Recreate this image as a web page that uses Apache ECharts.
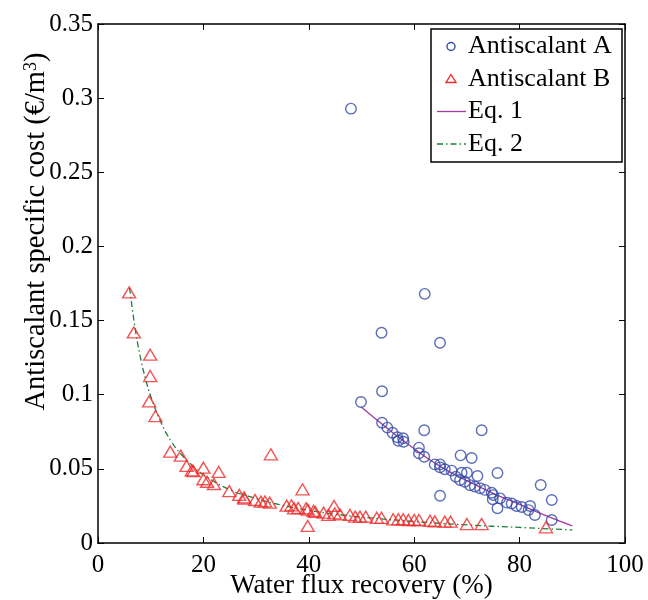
<!DOCTYPE html>
<html><head><meta charset="utf-8">
<script src="https://cdn.jsdelivr.net/npm/echarts@6/dist/echarts.min.js"></script>
<style>html,body{margin:0;padding:0;background:#fff}#c{width:648px;height:600px}</style>
</head><body><div id="c"></div>
<script>
// Antiscalant A (circles): [recovery %, cost €/m3]
const antiA = [
  [48.0,0.2929],[62.0,0.168],[53.8,0.1418],[64.9,0.135],[53.9,0.1023],[49.9,0.0951],
  [53.9,0.0811],[54.9,0.0778],[55.9,0.0744],[56.8,0.0713],[57.0,0.069],[57.9,0.0706],[58.0,0.0683],
  [61.9,0.076],[60.9,0.0643],[60.9,0.0605],[61.9,0.0582],[63.9,0.053],[64.9,0.053],[64.9,0.051],
  [65.8,0.0497],[64.9,0.0319],[67.1,0.0488],[68.8,0.0591],[70.9,0.0573],[69.0,0.0474],[70.0,0.0474],
  [67.9,0.0447],[68.7,0.0425],[69.6,0.0413],[72.0,0.0452],[70.6,0.039],[71.5,0.038],[72.8,0.076],
  [72.5,0.0369],[73.4,0.0358],[74.7,0.0339],[75.0,0.0323],[74.9,0.0295],[75.8,0.0472],[75.8,0.0234],
  [76.3,0.0301],[77.6,0.0272],[78.5,0.0266],[79.4,0.025],[80.4,0.0243],[82.0,0.025],[81.7,0.0222],
  [82.9,0.0189],[84.0,0.0391],[86.1,0.029],[86.1,0.0155]
];
// Antiscalant B (triangles)
const antiB = [
  [5.9,0.169],[6.8,0.142],[9.9,0.127],[9.9,0.1126],[9.7,0.0955],[10.9,0.0856],[13.7,0.0616],
  [15.7,0.0589],[16.8,0.052],[17.8,0.049],[18.1,0.0485],[20.0,0.0508],[20.0,0.043],[20.7,0.0413],
  [22.0,0.0398],[22.9,0.0479],[24.9,0.035],[26.8,0.0324],[27.7,0.0308],[27.8,0.030],[29.8,0.029],
  [30.9,0.0279],[31.7,0.028],[32.6,0.0272],[32.8,0.0598],[35.8,0.0252],[36.7,0.0254],[37.2,0.0234],
  [38.0,0.0236],[38.8,0.0362],[39.5,0.0234],[39.8,0.0225],[39.8,0.0115],[41.2,0.021],[40.9,0.0216],
  [42.8,0.0205],[43.7,0.019],[44.8,0.025],[44.9,0.020],[45.9,0.0193],[47.8,0.019],[48.8,0.0178],
  [49.7,0.0178],[50.8,0.0178],[52.9,0.017],[53.8,0.017],[56.0,0.016],[57.0,0.016],[57.9,0.016],
  [58.9,0.0155],[60.0,0.0155],[60.9,0.0155],[63.0,0.015],[63.9,0.0146],[65.8,0.0144],[66.9,0.0144],
  [70.0,0.0128],[72.8,0.0128],[85.0,0.0106]
];
// Eq. 1 fitted curve
const eq1 = [[50,0.0915],[55,0.077],[60,0.0635],[65,0.0515],[70,0.042],[75,0.0335],[80,0.026],[85,0.0185],[90,0.0115]];
// Eq. 2 fitted curve
const eq2 = [[6,0.172],[7,0.146],[8,0.126],[9,0.111],[10,0.099],[12,0.081],[14,0.068],[16,0.059],[18,0.052],
  [20,0.046],[25,0.036],[30,0.030],[35,0.0255],[40,0.022],[45,0.0195],[50,0.0175],[60,0.0145],[70,0.0122],[80,0.0105],[90,0.0088]];
const xTicks = ['0','20','40','60','80','100'];
const yTicks = ['0','0.05','0.1','0.15','0.2','0.25','0.3','0.35'];
const legendNames = ['Antiscalant A','Antiscalant B','Eq. 1','Eq. 2'];

const FONT = 'Liberation Serif';
const C_A = '#3349a8', C_B = '#ee2a2a', C_E1 = '#a03ca0', C_E2 = '#1a7f3a';
const chart = echarts.init(document.getElementById('c'), null, {renderer:'canvas'});
const axisCommon = {
  axisLine:{show:true,onZero:false,lineStyle:{color:'#000',width:1.5}},
  axisTick:{show:true,inside:true,length:6,lineStyle:{color:'#000',width:1}},
  splitLine:{show:false}
};
const lx = 437, ly0 = 46.5, ldy = 32.5;
const LF = '26px "Liberation Serif"';
chart.setOption({
  animation:false,
  grid:{left:98,right:23,top:24,bottom:57,containLabel:false,outerBoundsMode:'none'},
  xAxis:[
    Object.assign({type:'value',min:0,max:100,interval:20,position:'bottom',
      name:'Water flux recovery (%)',nameLocation:'middle',nameGap:29,nameMoveOverlap:false,
      nameTextStyle:{fontFamily:FONT,fontSize:27,color:'#000'},
      axisLabel:{fontFamily:FONT,fontSize:25,color:'#000',margin:10,formatter:v=>xTicks[Math.round(v/20)]}},axisCommon),
    Object.assign({type:'value',min:0,max:100,interval:20,position:'top',axisLabel:{show:false}},axisCommon)
  ],
  yAxis:[
    Object.assign({type:'value',min:0,max:0.35,interval:0.05,position:'left',
      name:'{a|Antiscalant specific cost (€/m}{s|3}{a|)}',nameLocation:'middle',nameGap:46,nameMoveOverlap:false,
      nameTextStyle:{fontFamily:FONT,fontSize:28.5,color:'#000',padding:[0,0,0,104],
        rich:{a:{fontFamily:FONT,fontSize:28.5,color:'#000'},s:{fontFamily:FONT,fontSize:18,color:'#000',verticalAlign:'top',padding:[0,0,12,0]}}},
      axisLabel:{fontFamily:FONT,fontSize:25,color:'#000',margin:5,formatter:v=>yTicks[Math.round(v/0.05)]}},axisCommon),
    Object.assign({type:'value',min:0,max:0.35,interval:0.05,position:'right',axisLabel:{show:false}},axisCommon)
  ],
  series:[
    {name:legendNames[0],type:'scatter',data:antiA,symbol:'circle',symbolSize:10.5,
      itemStyle:{color:'transparent',borderColor:C_A,borderWidth:1.4},z:3},
    {name:legendNames[1],type:'scatter',data:antiB,symbol:'triangle',symbolSize:[13,11],
      itemStyle:{color:'transparent',borderColor:C_B,borderWidth:1.4},z:3},
    {name:legendNames[2],type:'line',data:eq1,smooth:true,showSymbol:false,symbol:'none',
      lineStyle:{color:C_E1,width:1.3},z:2},
    {name:legendNames[3],type:'line',data:eq2,smooth:true,showSymbol:false,symbol:'none',
      lineStyle:{color:C_E2,width:1.3,type:[6,3,1.5,3]},z:2}
  ],
  graphic:[
    {type:'rect',shape:{x:431,y:29,width:191,height:133},style:{fill:'#fff',stroke:'#000',lineWidth:1.5},z:10},
    {type:'circle',shape:{cx:451,cy:ly0,r:4},style:{fill:'none',stroke:C_A,lineWidth:1.4},z:11},
    {type:'polygon',shape:{points:[[451,ly0+ldy-4.5],[456,ly0+ldy+3.5],[446,ly0+ldy+3.5]]},style:{fill:'none',stroke:C_B,lineWidth:1.4},z:11},
    {type:'line',shape:{x1:lx,y1:ly0+2*ldy,x2:466,y2:ly0+2*ldy},style:{stroke:C_E1,lineWidth:1.3},z:11},
    {type:'line',shape:{x1:lx,y1:ly0+3*ldy,x2:466,y2:ly0+3*ldy},style:{stroke:C_E2,lineWidth:1.3,lineDash:[6,3,1.5,3]},z:11},
    {type:'text',x:468,y:ly0,style:{text:legendNames[0],font:LF,fill:'#000',verticalAlign:'middle'},z:11},
    {type:'text',x:468,y:ly0+ldy,style:{text:legendNames[1],font:LF,fill:'#000',verticalAlign:'middle'},z:11},
    {type:'text',x:468,y:ly0+2*ldy,style:{text:legendNames[2],font:LF,fill:'#000',verticalAlign:'middle'},z:11},
    {type:'text',x:468,y:ly0+3*ldy,style:{text:legendNames[3],font:LF,fill:'#000',verticalAlign:'middle'},z:11}
  ]
});
</script></body></html>
